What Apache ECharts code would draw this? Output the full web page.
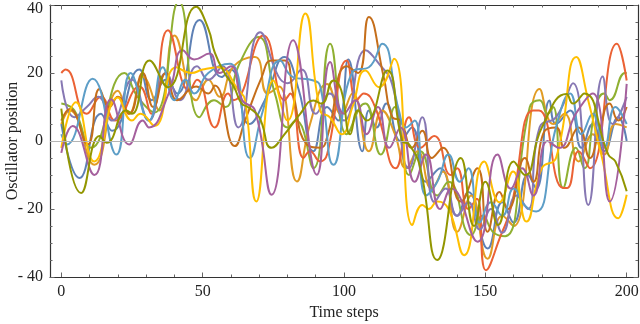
<!DOCTYPE html>
<html>
<head>
<meta charset="utf-8">
<script src="https://cdn.jsdelivr.net/npm/echarts@6.0.0/dist/echarts.min.js"></script>
<style>
  html, body { margin: 0; padding: 0; background: #fff; }
  #main { width: 640px; height: 324px; }
</style>
</head>
<body>
<div id="main"></div>
<script>
// tick positions
var xMajor = [0, 50, 100, 150, 200];
var xMinor = [10, 20, 30, 40, 60, 70, 80, 90, 110, 120, 130, 140, 160, 170, 180, 190];

// one oscillator per array, [time step, position] (turning points)
var blue = [[0,5],[6.4,-10.9],[14,8],[18,3],[27.6,21],[32,12],[37,18],[41,14],[48.9,35.6],[56.7,18.8],[60,21],[66.5,5],[72,12],[79,24.7],[84,15],[89.2,-3],[94,10],[98,6],[101.5,24],[106.5,-3],[108.8,9],[111.5,4],[115,11],[120,0],[124,4],[129,-12],[134,-8],[140,-22],[144,-15],[150.8,-31.6],[156,-18],[160,-24],[165,-10],[168,-14],[172.7,11.9],[175,5],[180,9],[184,-2],[188,5],[192,-3],[197,7],[200,0]];
var orange = [[0,5],[3,9],[11.7,-7],[20,14.8],[24,8],[28.8,19],[34.7,9],[40,31],[47.7,12],[52,18],[56,13],[61,22],[68.5,24.7],[73,14],[77,16],[83.3,-11.9],[88,5],[94,16.8],[99,8],[103,14],[108.8,-3],[113.5,9],[118,2],[122,-8],[126,-3],[131,-14],[135,-9],[140,-26.7],[145,-16],[150.8,-34.6],[156,-22],[160,-25],[169.2,15.3],[174,5],[178,8],[183,-6],[188,2],[192,-4],[196,5],[200,4]];
var green = [[0,11],[4.6,9],[10.5,-2],[22.3,20],[27,13],[33,8.4],[41.6,41],[48.9,7],[54,12],[58,10],[62.6,22],[69.7,30.6],[75.6,13.8],[80,4],[83,6],[89.2,-8],[95.1,28.6],[101,2],[105.7,10],[107.6,11],[113,-4],[118,10],[123,-10],[127,-3],[133,-16],[137,-12],[145,-27.7],[149,-22],[153,-27],[157,-28],[165.7,9.9],[169.2,12],[172,8],[174,10],[177.5,-13.8],[182,-2],[185,-8],[189,10],[192,14],[194,12],[199.4,20],[200,20]];
var red = [[0,20],[1.5,21],[9,8],[14,13],[19,6],[27.6,16],[31.8,8],[37.7,32.6],[45.3,14.8],[48,18],[54.3,4],[59,14],[61,12],[71.5,31],[79,12],[81,14],[85.7,-5],[88,-3],[91.6,-6],[94,-4],[101,23.7],[104.5,12],[107,14],[111,10],[118.3,-8],[123,7],[127,-2],[131.9,1.5],[137.8,-10],[140,-8],[144,-20],[147,-17],[150.2,-38],[155.5,-27.7],[159,-19.8],[166.8,9],[169,9],[177.5,-13.8],[179,-13.8],[183,-3],[187,-8],[196.5,28.6],[200,17.8]];
var purple = [[0,17.8],[4.6,7],[9,10],[13,13],[18,6],[25,18],[31,6],[37,20],[42,12],[48,22],[52,18],[57,22],[62.6,4],[70.3,32],[76.8,19],[80,17],[85,21],[90,8],[95,14],[100,6],[107.6,26.7],[112.4,22.7],[117,16.8],[123,-8],[127.7,7],[132,-18],[136,-14],[140,-22],[144,-18],[148,-26],[152,-20],[156,-27],[161,-16],[165,-20],[169.2,4],[175,7],[181,17],[186.4,-18.8],[191.5,19],[195,5],[200,13]];
var brown = [[0,6],[3,9.4],[9.3,-1],[13.5,15.3],[17,10],[20,13],[24,8],[28.8,20],[32.5,10],[37,20],[41,12],[47.7,16],[52,14],[54.3,16.3],[61.4,-1.5],[65,6],[70.9,18.8],[74.4,23.7],[79,23.7],[82,14],[86.8,-1],[91.6,-2],[94,1],[101,22],[105,20],[108.8,36.5],[114,19],[117.1,7],[120,6],[124,-2],[127.7,3],[131,-5],[135,-2],[141.3,-17.8],[147.2,-8],[150.8,-26.7],[155,-15],[158,-20],[164,-5],[167,-12],[171,3],[175,4],[178,-2],[183,4],[187,-5],[190,2],[194,11],[197,6],[200,10]];
var lightBlue = [[0,2],[2,-1],[11.1,18.3],[19.5,-4],[24.5,20],[31,6],[35.9,21.7],[40,12],[44,18],[47,14],[52,20],[59.7,22.7],[66.7,-5],[71,8],[77.4,23.7],[82,18.8],[89.2,17.8],[91.6,16],[96.3,-7],[103.4,20.7],[108.8,21.7],[113.5,28.6],[119.4,9],[122,4],[125,6],[129,-16],[133,-12],[137,-4],[141,-12],[144,-8],[148,-24],[152,-18],[156,-22],[160,-14],[164,-19],[168,-20.7],[175,4],[180,14],[184,2],[188,8],[192,-2],[196,10],[200,5]];
var yellow = [[0,-2],[5.2,11.4],[11.7,-6],[20,12.8],[25,6],[28,8],[33,4.4],[40.6,21.7],[46,20],[50,21],[55.5,21.7],[62.6,15],[65,12],[69,-17.8],[75,17.8],[80,6],[86.3,37.5],[91.6,8.9],[95,7],[99.2,2],[103,10],[107.6,20.7],[112.4,15.8],[117.7,24.2],[124.2,-24.7],[127.7,-18.8],[130,-20],[133,-17.8],[137,-20],[142.5,-33.6],[149.6,-6],[155,-18],[159.8,-9],[164.5,-23.7],[170,-8],[175,-5],[182.2,24.7],[186.4,11.9],[191,-4],[197,-22.7],[200,-15.8]];
var pink = [[0,-3.5],[4,4.4],[11.7,-10],[17.6,12.3],[24,-1],[28.8,6],[31,4],[38,14],[43,26.7],[47,24],[52.4,25.7],[56,20],[60,22],[64,12],[68.5,9],[74.4,-15.8],[82,29.6],[90.4,-9.9],[95.1,23.2],[100,8],[104,12],[108,2],[112,10],[116,-2],[120,4],[125,-12],[129,-4],[134,-20],[138,-14],[147.2,-29.6],[154.3,-4],[159,-14],[163,-8],[167,-16],[172,0],[176,-2],[182,8],[188,14],[194,-17.8],[200,16.8]];
var olive = [[0,9.5],[7,-15.3],[13.5,1.5],[16,-0.5],[23,9],[25,8],[31.2,23.7],[37.7,15.8],[47.7,39.5],[52,33],[54.3,26],[57.9,19.8],[61,16],[63.8,11],[66,10],[70,7],[74.4,-2],[79,2],[84.5,8],[89.2,11.9],[92,11],[96.3,17.8],[99,15],[102.2,2],[105,9],[108,6],[115.3,20.7],[120.6,0],[123,-1],[127,-8],[133,-35],[141.3,-5],[146,-25],[150,-12],[154.5,-24.7],[160,-6],[164,-10],[170,4],[178.7,13.8],[181,11],[185,14],[193.5,-4],[196,-6],[200,-14.8]];

var allSeries = [blue, orange, green, red, purple, brown, lightBlue, yellow, pink, olive];
var colors = ['#5E81B5', '#E19C24', '#8FB032', '#EB6235', '#8778B3', '#C56E1A', '#5D9EC7', '#FFBF00', '#A5609D', '#929600'];

var myChart = echarts.init(document.getElementById('main'), null, { renderer: 'canvas' });

var font = 'Liberation Serif, Times New Roman, serif';
var frameColor = '#333';
var tickColor = '#666';

function xAx(pos, major, withLabels) {
    return {
        type: 'value', position: pos, min: -4, max: 204,
        axisLine: { show: major, onZero: false, lineStyle: { color: frameColor, width: 1.2 } },
        axisTick: { show: true, inside: true, length: major ? 4.5 : 2.5,
            customValues: major ? xMajor : xMinor,
            lineStyle: { color: tickColor, width: 1 } },
        axisLabel: { show: withLabels, customValues: xMajor, margin: 7,
            fontFamily: font, fontSize: 16, color: '#222' },
        splitLine: { show: false },
        name: withLabels ? 'Time steps' : '',
        nameLocation: 'middle', nameGap: 28, nameMoveOverlap: false,
        nameTextStyle: { fontFamily: font, fontSize: 16, color: '#222' }
    };
}

function yAx(pos, withLabels) {
    return {
        type: 'value', position: pos, min: -40, max: 40, interval: 20,
        axisLine: { show: true, onZero: false, lineStyle: { color: frameColor, width: 1.2 } },
        axisTick: { show: true, inside: true, length: 4.5, lineStyle: { color: tickColor, width: 1 } },
        minorTick: { show: true, splitNumber: 4, length: 2.5, lineStyle: { color: tickColor, width: 1 } },
        axisLabel: { show: withLabels, margin: 7, fontFamily: font, fontSize: 16, color: '#222',
            formatter: function (v) {
                if (v === 40) return '{top|40}';
                return v < 0 ? '- ' + Math.abs(v) : String(v);
            },
            rich: { top: { fontFamily: font, fontSize: 16, color: '#222', padding: [7, 0, 0, 0] } } },
        splitLine: { show: false },
        name: withLabels ? 'Oscillator position' : '',
        nameLocation: 'middle', nameGap: 29, nameRotate: 90, nameMoveOverlap: false,
        nameTextStyle: { fontFamily: font, fontSize: 16, color: '#222' }
    };
}

var series = allSeries.map(function (d, i) {
    return {
        type: 'line', data: d, xAxisIndex: 0, yAxisIndex: 0,
        smooth: 0.5, showSymbol: false, symbol: 'none',
        lineStyle: { color: colors[i], width: 2 },
        itemStyle: { color: colors[i] },
        z: 3
    };
});
series.unshift({
    type: 'line', data: [], xAxisIndex: 0, yAxisIndex: 0, z: 1,
    markLine: { silent: true, symbol: 'none', label: { show: false },
        lineStyle: { color: '#b5b5b5', width: 1, type: 'solid' },
        data: [{ yAxis: 0 }] }
});

var option = {
    animation: false,
    backgroundColor: '#fff',
    grid: { left: 50, right: 2, top: 5, bottom: 47, outerBoundsMode: 'none' },
    xAxis: [xAx('bottom', true, true), xAx('bottom', false, false), xAx('top', true, false), xAx('top', false, false)],
    yAxis: [yAx('left', true), yAx('right', false)],
    series: series
};

myChart.setOption(option);
</script>
</body>
</html>
